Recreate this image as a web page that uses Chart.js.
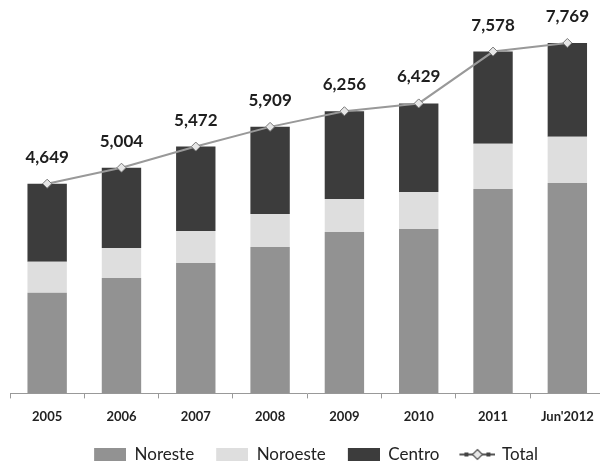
<!DOCTYPE html>
<html>
<head>
<meta charset="utf-8">
<script src="https://cdn.jsdelivr.net/npm/chart.js@4.4.1/dist/chart.umd.min.js"></script>
<style>
  html, body { margin: 0; padding: 0; background: #fff; overflow: hidden; }
  #wrap { width: 610px; height: 465px; }
</style>
</head>
<body>
<div id="wrap"><canvas id="chart"></canvas></div>
<script>
// Data
const years = ['2005', '2006', '2007', '2008', '2009', '2010', '2011', "Jun'2012"];
const noreste = [2230, 2556, 2889, 3244, 3578, 3644, 4533, 4667];
const noroeste = [690, 667, 711, 733, 733, 822, 1000, 1022];
const centro = [1729, 1781, 1872, 1932, 1945, 1963, 2045, 2080];
const total = [4649, 5004, 5472, 5909, 6256, 6429, 7578, 7769];

const colors = {
    noreste: '#929292',
    noroeste: '#dedede',
    centro: '#3c3c3c',
    line: '#999999'
};

// small canvases used as legend symbols (left margin gives the item gap)
const gap = 12;

function legendBox(color) {
    const c = document.createElement('canvas');
    c.width = 32 + gap; c.height = 13;
    const g = c.getContext('2d');
    g.fillStyle = color;
    g.fillRect(gap, 0, 32, 13);
    return c;
}

function legendLine() {
    const c = document.createElement('canvas');
    c.width = 36 + gap; c.height = 13;
    const g = c.getContext('2d');
    g.translate(gap, 0);
    g.strokeStyle = '#555';
    g.lineWidth = 2;
    g.beginPath();
    g.moveTo(0, 6.5); g.lineTo(36, 6.5);
    g.stroke();
    g.fillStyle = '#444';
    g.fillRect(5, 4.5, 4, 4);
    g.fillRect(27, 4.5, 4, 4);
    g.fillStyle = '#e8e8e8';
    g.lineWidth = 1.2;
    g.beginPath();
    g.moveTo(18, 1.5); g.lineTo(23, 6.5); g.lineTo(18, 11.5); g.lineTo(13, 6.5); g.closePath();
    g.fill();
    g.stroke();
    return c;
}

// value labels above the total line
const totalLabels = {
    id: 'totalLabels',
    afterDatasetsDraw(chart) {
        const ctx = chart.ctx;
        const meta = chart.getDatasetMeta(3);
        ctx.save();
        ctx.font = 'bold 17px Lato';
        ctx.fillStyle = '#1e1e1e';
        ctx.textAlign = 'center';
        ctx.textBaseline = 'bottom';
        meta.data.forEach(function(pt, i) {
            ctx.fillText(total[i].toLocaleString('en-US'), pt.x, pt.y - 18);
        });
        ctx.restore();
    }
};

const symbols = [legendBox(colors.noreste), legendBox(colors.noroeste), legendBox(colors.centro), legendLine()];
const barWidth = { categoryPercentage: 1, barPercentage: 0.53 };

new Chart(document.getElementById('chart'), {
    type: 'bar',
    data: {
        labels: years,
        datasets: [Object.assign({
            label: 'Noreste',
            data: noreste,
            backgroundColor: colors.noreste,
            order: 1
        }, barWidth), Object.assign({
            label: 'Noroeste',
            data: noroeste,
            backgroundColor: colors.noroeste,
            order: 1
        }, barWidth), Object.assign({
            label: 'Centro',
            data: centro,
            backgroundColor: colors.centro,
            order: 1
        }, barWidth), {
            type: 'line',
            label: 'Total',
            data: total,
            stack: 'total',
            borderColor: colors.line,
            borderWidth: 2,
            pointStyle: 'rectRot',
            pointRadius: 4.5,
            pointBackgroundColor: '#e6e6e6',
            pointBorderColor: '#777',
            pointBorderWidth: 1,
            tension: 0,
            order: 0
        }]
    },
    options: {
        responsive: true,
        maintainAspectRatio: false,
        animation: false,
        layout: {
            padding: { top: 10, left: 10, right: 0, bottom: -8 }
        },
        plugins: {
            tooltip: { enabled: false },
            legend: {
                position: 'bottom',
                labels: {
                    usePointStyle: true,
                    pointStyleWidth: 32 + gap,
                    padding: 10,
                    color: '#222',
                    font: { family: 'Lato', size: 17 },
                    sort: function(a, b) { return a.datasetIndex - b.datasetIndex; },
                    generateLabels: function(chart) {
                        return chart.data.datasets.map(function(ds, i) {
                            return {
                                text: ds.label,
                                pointStyle: symbols[i],
                                datasetIndex: i,
                                fontColor: '#222',
                                lineWidth: 0,
                                hidden: false
                            };
                        });
                    }
                }
            }
        },
        scales: {
            x: {
                stacked: true,
                grid: {
                    offset: true,
                    drawOnChartArea: false,
                    drawTicks: true,
                    tickLength: 5,
                    color: '#999'
                },
                border: {
                    display: true,
                    color: '#999',
                    dash: [2, 2]
                },
                ticks: {
                    color: '#222',
                    font: { family: 'Lato', size: 13, weight: 'bold' },
                    padding: 11,
                    maxRotation: 0,
                    autoSkip: false
                }
            },
            y: {
                stacked: true,
                display: false,
                min: 0,
                max: 8500
            }
        }
    },
    plugins: [totalLabels]
});
</script>
</body>
</html>
